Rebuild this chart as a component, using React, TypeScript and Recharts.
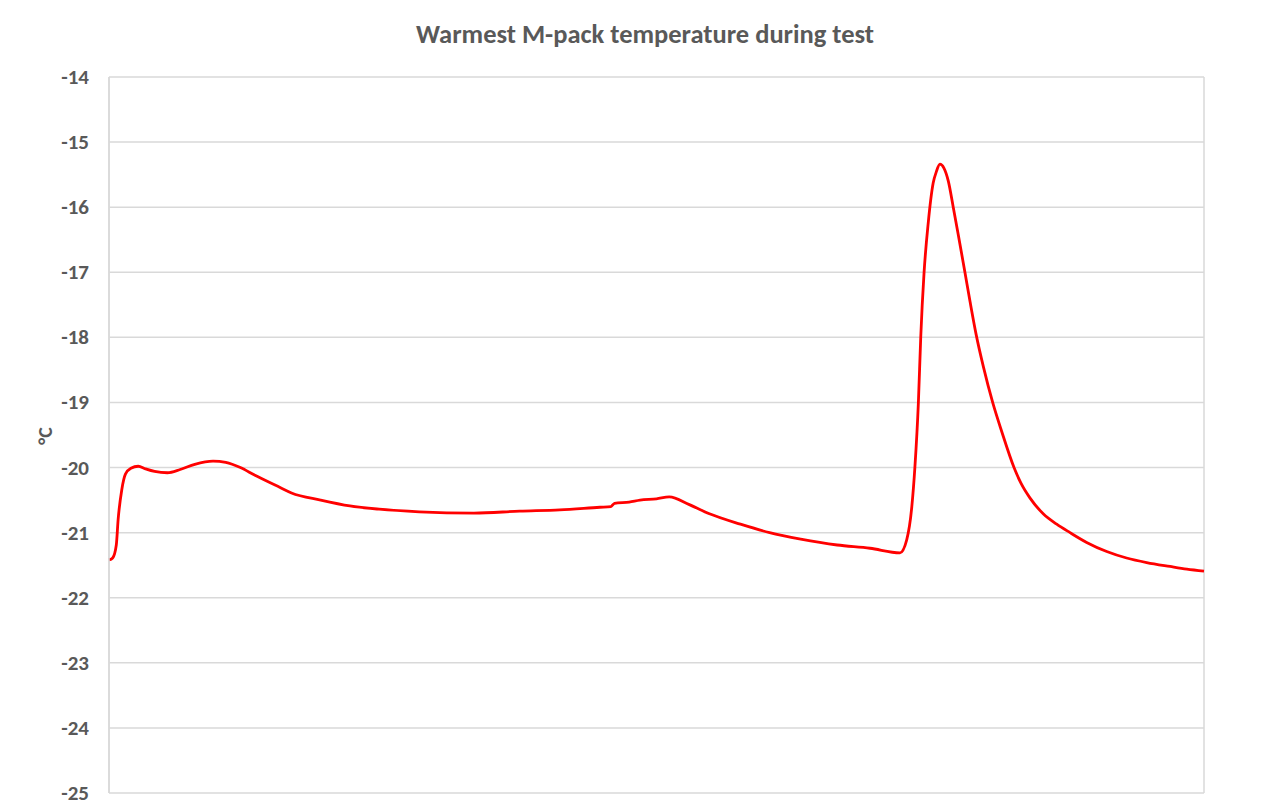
import { LineChart, Line, XAxis, YAxis, CartesianGrid } from 'recharts'

// time in grid units (6 vertical divisions), temperature in °C
const time = [
  0, 0.02, 0.04, 0.05, 0.07, 0.09, 0.12, 0.16, 0.2, 0.25, 0.32, 0.39, 0.47, 0.57, 0.64, 0.72, 0.8, 0.94,
  1.0, 1.16, 1.32, 1.48, 1.7, 2.0, 2.25, 2.47, 2.69, 2.75, 2.77, 2.85, 2.91, 3.0, 3.07, 3.18, 3.29, 3.46,
  3.62, 3.79, 3.99, 4.17, 4.334, 4.371, 4.399, 4.416, 4.435, 4.448, 4.466, 4.489, 4.516, 4.534, 4.553,
  4.575, 4.599, 4.626, 4.654, 4.69, 4.718, 4.751, 4.791, 4.842, 4.892, 4.959, 4.997, 5.047, 5.119, 5.193,
  5.266, 5.357, 5.467, 5.576, 5.686, 5.814, 5.906, 6.0,
]
const temp = [
  -21.42, -21.39, -21.19, -20.8, -20.34, -20.1, -20.01, -19.98, -20.02, -20.06, -20.08, -20.03, -19.95,
  -19.9, -19.92, -20.0, -20.12, -20.31, -20.39, -20.5, -20.59, -20.64, -20.68, -20.7, -20.67, -20.65,
  -20.61, -20.6, -20.55, -20.53, -20.5, -20.48, -20.45, -20.57, -20.71, -20.87, -21.0, -21.1, -21.19,
  -21.24, -21.31, -21.11, -20.6, -19.99, -19.0, -17.99, -17.01, -16.24, -15.63, -15.45, -15.34,
  -15.4, -15.6, -16.0, -16.43, -17.0, -17.45, -17.95, -18.45, -19.0, -19.45, -20.0, -20.24, -20.47,
  -20.71, -20.87, -21.0, -21.15, -21.29, -21.39, -21.46, -21.52, -21.56, -21.59,
]
const xTicks = [0, 1, 2, 3, 4, 5, 6]
const yTicks = [-25, -24, -23, -22, -21, -20, -19, -18, -17, -16, -15, -14]

const data = time.map((t, i) => ({ t, v: temp[i] }))

const FONT = 'Carlito, Calibri, Lato, sans-serif'

const AxisTitle = () => (
  <text x={37} y={431} transform="rotate(-90 37 431)" textAnchor="middle" dominantBaseline="central"
    fill="#595959" fontSize={20} fontWeight={700} fontFamily={FONT}>°C</text>
)

const YTick = ({ x, y, payload }: any) => (
  <text x={x} y={y} textAnchor="end" dominantBaseline="central" fill="#595959"
    fontSize={21} fontWeight={700} fontFamily={FONT}>{payload.value}</text>
)

export default function App() {
  return (
    <div style={{ position: 'relative', margin: '-4px 0 0 -1px', width: 1270, height: 810,
      border: '1.5px solid #d0d0d0', boxSizing: 'border-box', background: '#fff', fontFamily: FONT }}>
      <div style={{ position: 'absolute', top: 16, left: 6, right: 0, textAlign: 'center',
        fontSize: 26.5, lineHeight: '26px', fontWeight: 700, color: '#595959' }}>
        Warmest M-pack temperature during test
      </div>
      <LineChart width={1268} height={800} data={data} margin={{ top: 72, right: 72, bottom: 12, left: 0 }}>
        <CartesianGrid stroke="#d9d9d9" strokeWidth={1.5} />
        <XAxis dataKey="t" type="number" domain={[0, 6]} ticks={xTicks} height={0}
          tick={false} tickLine={false} axisLine={false} />
        <YAxis type="number" domain={[-25, -14]} ticks={yTicks} width={101} interval={0}
          tickLine={false} tickSize={0} tickMargin={20} axisLine={{ stroke: '#d9d9d9', strokeWidth: 1.5 }}
          tick={<YTick />} label={<AxisTitle />} />
        <Line type="monotone" dataKey="v" stroke="#ff0000" strokeWidth={2.8} dot={false}
          activeDot={false} isAnimationActive={false} />
      </LineChart>
    </div>
  )
}
